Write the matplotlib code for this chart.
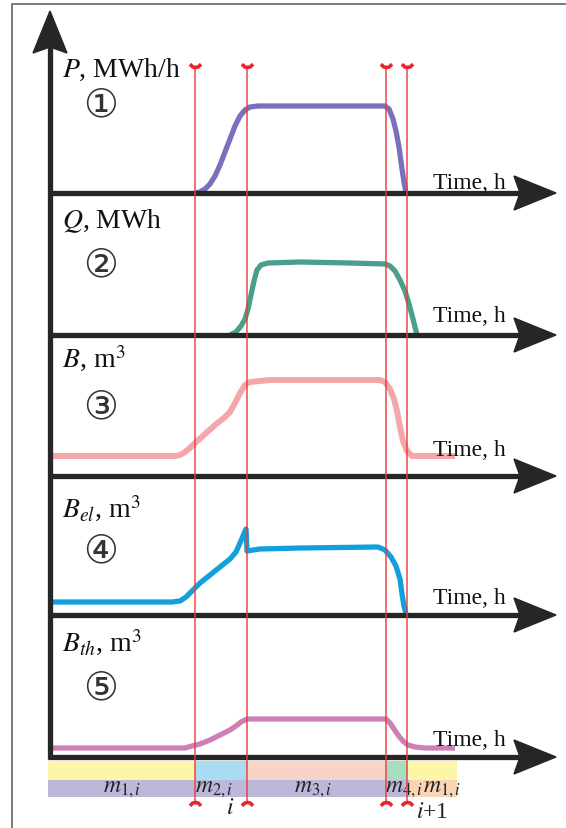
import numpy as np
import matplotlib.pyplot as plt
from matplotlib.path import Path
from matplotlib.patches import Polygon

plt.rcParams['font.family'] = ['Liberation Serif', 'DejaVu Sans']
plt.rcParams['mathtext.fontset'] = 'stix'

# time in hours (schematic), values in arbitrary panel units
t_p = [14.7, 15.2, 15.7, 16.2, 16.7, 17.2, 17.7, 18.2, 18.7, 19.2, 19.7, 20.2, 21.0,
       33.7, 34.1, 34.5, 34.8, 35.1, 35.4, 35.6, 35.8]
v_p = [0, 0.1, 0.4, 0.9, 1.7, 2.8, 4.1, 5.4, 6.7, 7.7, 8.3, 8.6, 8.7,
       8.7, 8.4, 7.4, 6.2, 4.6, 2.4, 1.1, 0]

t_q = [18.2, 18.8, 19.3, 19.7, 20.0, 20.3, 20.6, 20.9, 21.3, 22.0, 25.2, 30.2,
       33.7, 34.2, 34.7, 35.2, 35.7, 36.1, 36.5, 36.9]
v_q = [0, 0.3, 0.9, 1.6, 2.6, 4.0, 5.4, 6.5, 7.0, 7.2, 7.3, 7.2,
       7.1, 6.9, 6.4, 5.5, 4.4, 3.1, 1.6, 0]

t_b = [0.2, 12.7, 13.2, 13.7, 14.2, 14.7, 15.7, 16.7, 17.7, 18.2, 18.7, 19.2, 19.7, 20.2,
       22.2, 33.2, 33.7, 34.2, 34.6, 34.9, 35.2, 35.5, 35.9, 36.4, 40.7]
v_b = [2.0, 2.0, 2.1, 2.4, 2.8, 3.3, 4.2, 5.1, 5.9, 6.4, 7.3, 8.3, 9.1, 9.4,
       9.6, 9.6, 9.4, 8.7, 7.7, 6.5, 4.9, 3.5, 2.5, 2.0, 2.0]

t_bel = [0.4, 12.4, 13.2, 13.8, 14.4, 15.2, 16.2, 17.2, 18.2, 18.8, 19.2, 19.8, 19.9,
         21.2, 25.2, 33.0, 33.7, 34.3, 34.8, 35.2, 35.4, 35.6, 35.8]
v_bel = [1.3, 1.3, 1.4, 1.8, 2.4, 3.2, 4.0, 4.8, 5.6, 6.3, 7.2, 8.6, 6.4,
         6.6, 6.7, 6.8, 6.5, 5.8, 4.9, 3.6, 2.1, 0.9, 0.1]

t_bth = [0.2, 13.7, 14.4, 15.2, 16.2, 17.2, 18.2, 18.8, 19.3, 19.9,
         33.8, 34.2, 34.6, 35.0, 35.5, 36.0, 36.7, 37.7, 40.7]
v_bth = [0.9, 0.9, 1.1, 1.3, 1.7, 2.2, 2.7, 3.1, 3.5, 3.8,
         3.8, 3.4, 2.8, 2.2, 1.6, 1.2, 1.0, 0.9, 0.9]

labels = ['$P$, MWh/h', '$Q$, MWh', '$B$, m$^3$', '$B_{el}$, m$^3$', '$B_{th}$, m$^3$']
marks = ['①', '②', '③', '④', '⑤']
series = [(t_p, v_p), (t_q, v_q), (t_b, v_b), (t_bel, v_bel), (t_bth, v_bth)]
colors = ['#7a70bd', '#4a9e8c', '#f4a7aa', '#12a0dc', '#cc80b8']

# mode boundaries (red lines)
bounds = [14.7, 19.9, 33.8, 35.9]
t_end = 40.9
row1_cols = ['#fdf6a8', '#a9dcf0', '#f9d3c8', '#a6dcc0', '#fdf6a8']
row2_split = 36.2
row2_cols = ['#bbb8da', '#f9d5b5']
mode_labels = ['$m_{1,i}$', '$m_{2,i}$', '$m_{3,i}$', '$m_{4,i}$', '$m_{1,i}$']
mode_x = [7.4, 16.6, 26.5, 35.6, 39.4]

# layout
base = [63.5, 49.3, 35.2, 21.3, 7.1]
time_dy = [0.5, 1.4, 2.1, 1.2, 1.2]
ink = '#262626'

fig = plt.figure(figsize=(5.66, 8.29), dpi=100)
ax = fig.add_axes([0, 0, 1, 1])
ax.set_xlim(-4.8, 51.8)
ax.set_ylim(0, 82.9)
ax.axis('off')

# outer frame
ax.plot([-3.6, -3.6, 51.8], [0, 82.4, 82.4], color='#707070', lw=1.3)

# colour bands
edges = [0.0] + bounds + [t_end]
ax.broken_barh([(edges[k], edges[k + 1] - edges[k]) for k in range(5)], (4.8, 1.9),
               facecolors=row1_cols, zorder=1)
ax.broken_barh([(0.0, row2_split), (row2_split, t_end - row2_split)], (3.1, 1.7),
               facecolors=row2_cols, zorder=1)
for lab, x in zip(mode_labels, mode_x):
    ax.text(x, 3.95, lab, fontsize=17, ha='center', va='center', color='#222222', zorder=4)
ax.text(18.2, 2.0, '$i$', fontsize=17, ha='center', va='center', color='#222222')
ax.text(38.4, 1.6, '$i$+1', fontsize=17, ha='center', va='center', color='#222222')

# curves
for (t, v), b, c in zip(series, base, colors):
    ax.plot(t, np.array(v) + b, color=c, lw=3.8 if c != '#f4a7aa' else 4.3,
            solid_capstyle='butt', solid_joinstyle='round', zorder=3)

# axes with arrows
ax.plot([0.2, 0.2], [6.9, 78.5], color=ink, lw=3.8, solid_capstyle='butt', zorder=5)
ax.add_patch(Polygon([(0.2, 81.7), (-1.5, 77.5), (0.2, 78.1), (1.9, 77.5)],
                     closed=True, color=ink, zorder=5))
for b, dy in zip(base, time_dy):
    ax.plot([0.0, 47.6], [b, b], color=ink, lw=3.8, solid_capstyle='butt', zorder=5)
    ax.add_patch(Polygon([(50.8, b), (46.6, b + 1.7), (47.2, b), (46.6, b - 1.7)],
                         closed=True, color=ink, zorder=5))
    ax.text(38.5, b + dy, 'Time, h', fontsize=17, ha='left', va='baseline', color='#111111',
            zorder=6)

# panel labels
lab_y = [75.2, 60.1, 46.1, 31.1, 17.7]
mark_y = [72.4, 56.4, 42.2, 27.8, 14.1]
for lab, ly, m, my in zip(labels, lab_y, marks, mark_y):
    ax.text(1.4, ly, lab, fontsize=20, ha='left', va='baseline', color='#111111')
    ax.text(5.3, my, m, fontsize=28, ha='center', va='center', color='#333333',
            family=['DejaVu Sans'])

# red boundary lines with caps
top_cap = Path([(-1, 0.6), (-0.5, 0.1), (0, 0), (0.5, 0.1), (1, 0.6)])
bot_cap = Path([(-1, -0.6), (-0.5, -0.1), (0, 0), (0.5, -0.1), (1, -0.6)])
for x in bounds:
    ax.plot([x, x], [2.6, 76.1], color='#e83a3a', lw=1.2, alpha=0.85, zorder=7)
    ax.plot([x], [76.1], marker=top_cap, ms=8, mew=2.6, mfc='none', mec='#e8262a', zorder=7)
    ax.plot([x], [2.6], marker=bot_cap, ms=8, mew=2.6, mfc='none', mec='#e8262a', zorder=7)

fig.savefig('out.png', dpi=100)
